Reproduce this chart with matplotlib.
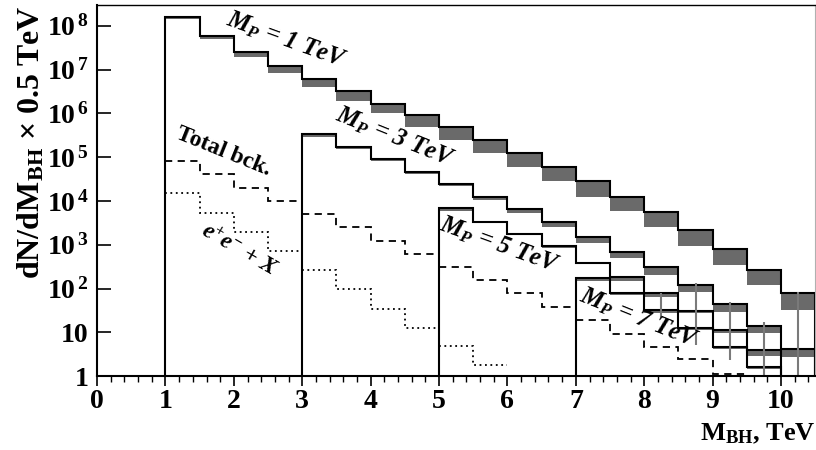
import numpy as np
import matplotlib
matplotlib.use("Agg")
import matplotlib.pyplot as plt
from matplotlib.ticker import FixedLocator, MultipleLocator, LogLocator, NullFormatter

plt.rcParams['font.family'] = ['Liberation Serif', 'DejaVu Serif']
plt.rcParams['font.weight'] = 'bold'
plt.rcParams['axes.labelweight'] = 'bold'
plt.rcParams['mathtext.fontset'] = 'custom'
plt.rcParams['mathtext.rm'] = 'Liberation Serif:bold'
plt.rcParams['mathtext.bf'] = 'Liberation Serif:bold'
plt.rcParams['mathtext.it'] = 'Liberation Serif:bold:italic'
plt.rcParams['mathtext.default'] = 'rm'

# signal histograms: upper / lower edge of the uncertainty band per 0.5 TeV bin
mp1_edges = np.arange(1.0, 10.51, 0.5)
mp1_hi = [1.6e8, 5.9e7, 2.5e7, 1.23e7, 6.0e6, 3.3e6, 1.66e6, 9.1e5, 4.8e5, 2.45e5,
          1.23e5, 6.0e4, 2.9e4, 1.26e4, 5.6e3, 2.2e3, 800, 265, 80]
mp1_lo = [1.4e8, 4.9e7, 1.9e7, 8.5e6, 4.0e6, 1.95e6, 1.0e6, 4.9e5, 2.45e5, 1.23e5,
          6.0e4, 2.9e4, 1.26e4, 5.9e3, 2.5e3, 930, 350, 120, 32]

mp3_edges = np.arange(3.0, 10.51, 0.5)
mp3_hi = [3.4e5, 1.74e5, 8.9e4, 4.7e4, 2.5e4, 1.26e4, 6.5e3, 3.3e3, 1.5e3, 690,
          316, 120, 45, 13.8, 4.1]
mp3_lo = [2.95e5, 1.58e5, 8.1e4, 4.2e4, 2.15e4, 1.05e4, 5.2e3, 2.5e3, 1.12e3, 490,
          204, 85, 29.5, 9.5, 2.75]

mp5_edges = np.arange(5.0, 10.51, 0.5)
mp5_hi = [6.8e3, 3.4e3, 1.8e3, 930, 390, 186, 78, 31, 11.2, 3.9, 0.5]
mp5_lo = [6.0e3, 3.1e3, 1.66e3, 830, 360, 151, 65, 27.5, 9.5, 2.9, 0.4]

mp7_edges = np.arange(7.0, 10.51, 0.5)
mp7_hi = [174, 79, 32, 12.6, 4.7, 1.62, 0.5]
mp7_lo = [151, 71, 28, 11.2, 4.2, 1.45, 0.4]

# total background, one piece above each threshold
bck_edges = [np.arange(1.0, 3.01, 0.5), np.arange(3.0, 5.01, 0.5),
             np.arange(5.0, 7.01, 0.5), np.arange(7.0, 9.51, 0.5)]
bck_vals = [[8.3e4, 4.2e4, 2.0e4, 1.02e4],
            [5.0e3, 2.6e3, 1.23e3, 630],
            [316, 155, 78, 38],
            [19, 9.4, 4.7, 2.5, 1.15]]

# e+e- + X background
ee_edges = [np.arange(1.0, 3.01, 0.5), np.arange(3.0, 5.01, 0.5), np.arange(5.0, 6.01, 0.5)]
ee_vals = [[1.5e4, 5.4e3, 2.0e3, 720],
           [263, 98, 35, 12.9],
           [4.9, 1.8]]

# statistical error bars in the tail
err_x = [8.25, 8.75, 9.25, 9.75, 10.25]
err_lo = [21, 5.1, 2.3, 1.0, 1.0]
err_hi = [79, 135, 50, 17, 85]

band_color = '#6a6a6a'

fig = plt.figure(figsize=(8.16, 4.5), dpi=100)
ax = fig.add_axes([0.119, 0.164, 0.88, 0.825])

for edges, hi, lo in [(mp1_edges, mp1_hi, mp1_lo), (mp3_edges, mp3_hi, mp3_lo),
                      (mp5_edges, mp5_hi, mp5_lo), (mp7_edges, mp7_hi, mp7_lo)]:
    ax.stairs(hi, edges, baseline=lo, fill=True, color=band_color, lw=0)
    ax.stairs(hi, edges, baseline=1e-3, color='black', lw=1.5)

for edges, vals in zip(bck_edges, bck_vals):
    ax.stairs(vals, edges, baseline=None, color='black', lw=1.3, linestyle=(0, (4, 3)))
for edges, vals in zip(ee_edges, ee_vals):
    ax.stairs(vals, edges, baseline=None, color='black', lw=1.3, linestyle=(0, (1, 2)))

ax.vlines(err_x, err_lo, err_hi, color='#7a7a7a', lw=1.5)

ax.set_yscale('log')
ax.set_xlim(0, 10.5)
ax.set_ylim(1, 3.0e8)

ax.xaxis.set_major_locator(MultipleLocator(1))
ax.xaxis.set_minor_locator(MultipleLocator(0.2))
ax.yaxis.set_major_locator(FixedLocator([10.0 ** k for k in range(9)]))
ax.yaxis.set_minor_locator(LogLocator(base=10, subs=np.arange(2, 10)))
ax.yaxis.set_minor_formatter(NullFormatter())
ylabels = ['1', '10'] + [r'$10^{\ \!%d}$' % k for k in range(2, 9)]
ax.set_yticklabels(ylabels)

ax.tick_params(axis='x', which='major', direction='out', length=7, width=1.2, labelsize=20, pad=2)
ax.tick_params(axis='x', which='minor', direction='out', length=4, width=1.0)
ax.tick_params(axis='y', which='major', direction='in', length=10, width=1.2, labelsize=20, pad=6)
ax.tick_params(axis='y', which='minor', direction='in', length=5, width=1.0)

for side in ['left', 'bottom']:
    ax.spines[side].set_linewidth(1.5)
ax.spines['top'].set_linewidth(1.0)
ax.spines['right'].set_color('#b0b0b0')

ax.set_xlabel(r'M$_{\mathbf{BH}}$, TeV', fontsize=19, fontweight='bold', loc='right', labelpad=6)
ax.set_ylabel(r'dN/dM$_{\mathbf{BH}}$ $\times$ 0.5 TeV', fontsize=23, fontweight='bold',
              loc='top', labelpad=0)

label_kw = dict(fontsize=18, fontstyle='italic', fontweight='bold', ha='center', va='center')
ax.text(2.77, 10 ** 7.68, r'$\mathit{M}_{\mathit{P}}$ = 1 TeV', rotation=-20, **label_kw)
ax.text(4.35, 10 ** 5.46, r'$\mathit{M}_{\mathit{P}}$ = 3 TeV', rotation=-22, **label_kw)
ax.text(5.88, 10 ** 2.99, r'$\mathit{M}_{\mathit{P}}$ = 5 TeV', rotation=-20, **label_kw)
ax.text(7.92, 10 ** 1.33, r'$\mathit{M}_{\mathit{P}}$ = 7 TeV', rotation=-22, **label_kw)
ax.text(1.85, 10 ** 5.12, 'Total bck.', rotation=-22, fontsize=17, fontweight='bold',
        ha='center', va='center')
ax.text(2.08, 10 ** 2.88, r'e$^{+}$e$^{-}$ + X', rotation=-30, fontsize=17,
        fontstyle='italic', fontweight='bold', ha='center', va='center')

fig.savefig('out.png', dpi=100)
